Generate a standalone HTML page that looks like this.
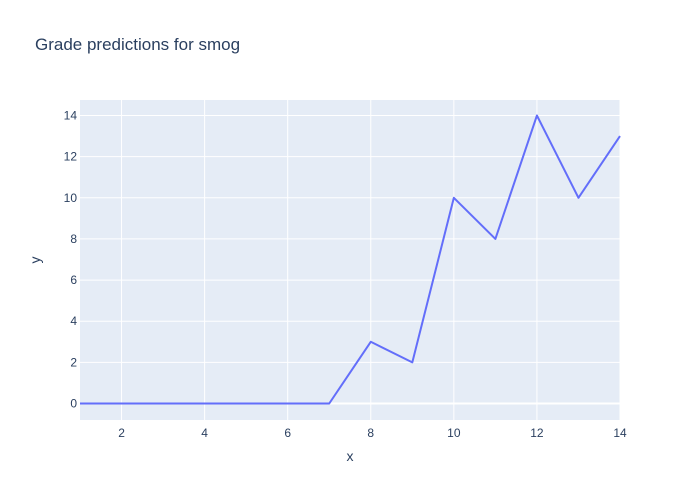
<!DOCTYPE html>
<html>
<head>
<meta charset="utf-8">
<style>
  html,body{margin:0;padding:0;background:#fff;}
  svg{display:block;font-family:"Liberation Sans", "Open Sans", sans-serif;}
</style>
</head>
<body>
<svg id="chart" width="700" height="500">
  <rect x="0" y="0" width="700" height="500" fill="#fff"/>
  <text x="35" y="50" font-size="17" fill="#2a3f5f">Grade predictions for smog</text>
  <rect x="80" y="100" width="540" height="320" fill="#E5ECF6"/>
  <g id="grid"></g>
  <g id="ticks"></g>
  <g id="series"></g>
  <text x="350" y="461" font-size="14" fill="#2a3f5f" text-anchor="middle">x</text>
  <text x="0" y="0" font-size="14" fill="#2a3f5f" text-anchor="middle" transform="translate(40,260) rotate(-90)">y</text>
</svg>
<script>
const xValues = [1,2,3,4,5,6,7,8,9,10,11,12,13,14];
const yValues = [0,0,0,0,0,0,0,3,2,10,8,14,10,13];
const xTicks = [2,4,6,8,10,12,14];
const yTicks = [0,2,4,6,8,10,12,14];

const X0=80, X1=620, XMIN=1, XMAX=14;
const Y0PIX=403.5, YPER=(403.5-115.5)/14;
function sx(v){return X0+(v-XMIN)/(XMAX-XMIN)*(X1-X0);}
function sy(v){return Y0PIX-v*YPER;}
const NS="http://www.w3.org/2000/svg";
const grid=document.getElementById('grid'), ticks=document.getElementById('ticks'), series=document.getElementById('series');

xTicks.forEach(t=>{
  const l=document.createElementNS(NS,'line');
  l.setAttribute('x1',sx(t));l.setAttribute('x2',sx(t));l.setAttribute('y1',100);l.setAttribute('y2',420);
  l.setAttribute('stroke','#fff');l.setAttribute('stroke-width',1);
  
  
  grid.appendChild(l);
  const tx=document.createElementNS(NS,'text');
  tx.setAttribute('x',sx(t));tx.setAttribute('y',437);tx.setAttribute('font-size',12);
  tx.setAttribute('fill','#2a3f5f');tx.setAttribute('text-anchor','middle');tx.textContent=t;
  
  
  ticks.appendChild(tx);
});
yTicks.forEach(t=>{
  const l=document.createElementNS(NS,'line');
  l.setAttribute('x1',80);l.setAttribute('x2',620);l.setAttribute('y1',sy(t));l.setAttribute('y2',sy(t));
  l.setAttribute('stroke','#fff');l.setAttribute('stroke-width',t===0?2:1);
  
  
  grid.appendChild(l);
  const tx=document.createElementNS(NS,'text');
  tx.setAttribute('x',77);tx.setAttribute('y',sy(t)+4);tx.setAttribute('font-size',12);
  tx.setAttribute('fill','#2a3f5f');tx.setAttribute('text-anchor','end');tx.textContent=t;
  
  
  ticks.appendChild(tx);
});
const pts=xValues.map((x,i)=>sx(x)+','+sy(yValues[i])).join(' ');
const pl=document.createElementNS(NS,'polyline');
pl.setAttribute('points',pts);pl.setAttribute('fill','none');
pl.setAttribute('stroke','#636efa');pl.setAttribute('stroke-width',2);pl.setAttribute('stroke-linejoin','round');


series.appendChild(pl);
</script>
</body>
</html>
